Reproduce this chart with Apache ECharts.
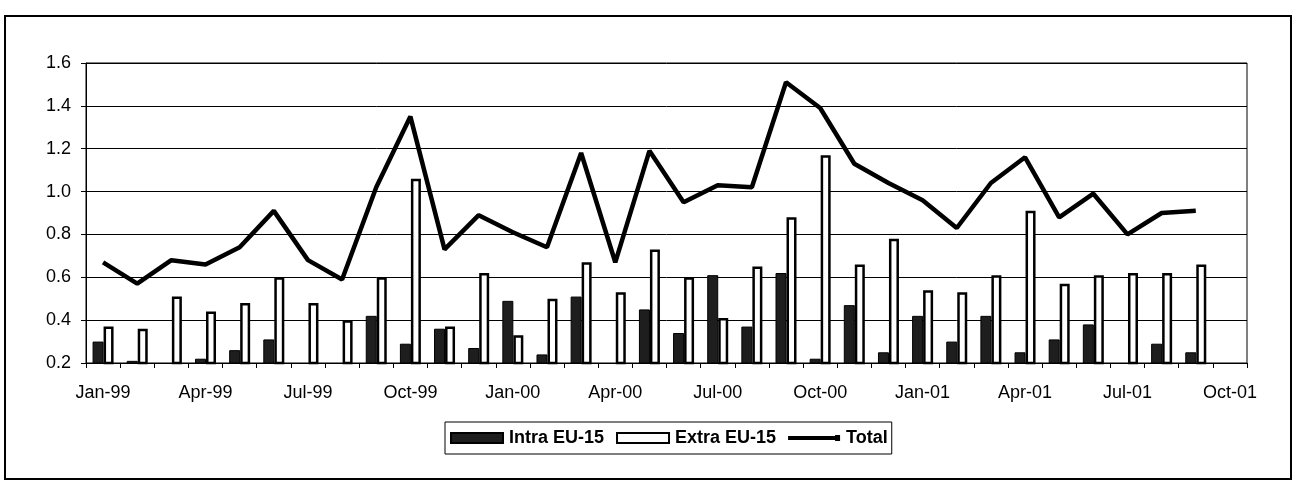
<!DOCTYPE html>
<html>
<head>
<meta charset="utf-8">
<script src="https://cdn.jsdelivr.net/npm/echarts@6/dist/echarts.min.js"></script>
<style>
  html, body { margin: 0; padding: 0; background: #fff; }
  #chart { width: 1295px; height: 485px; }
</style>
</head>
<body>
<div id="chart"></div>
<script>
// Monthly categories, Jan-99 .. Oct-01 (Oct-01 is an empty slot closing the axis)
const months = [
  'Jan-99','Feb-99','Mar-99','Apr-99','May-99','Jun-99','Jul-99','Aug-99','Sep-99','Oct-99','Nov-99','Dec-99',
  'Jan-00','Feb-00','Mar-00','Apr-00','May-00','Jun-00','Jul-00','Aug-00','Sep-00','Oct-00','Nov-00','Dec-00',
  'Jan-01','Feb-01','Mar-01','Apr-01','May-01','Jun-01','Jul-01','Aug-01','Sep-01','Oct-01'
];

const intraEU15 = [
  0.30, 0.21, 0.17, 0.22, 0.26, 0.31, 0.20, 0.19, 0.42, 0.29, 0.36, 0.27,
  0.49, 0.24, 0.51, 0.14, 0.45, 0.34, 0.61, 0.37, 0.62, 0.22, 0.47, 0.25,
  0.42, 0.30, 0.42, 0.25, 0.31, 0.38, 0.18, 0.29, 0.25
];

const extraEU15 = [
  0.37, 0.36, 0.51, 0.44, 0.48, 0.60, 0.48, 0.40, 0.60, 1.06, 0.37, 0.62,
  0.33, 0.50, 0.67, 0.53, 0.73, 0.60, 0.41, 0.65, 0.88, 1.17, 0.66, 0.78,
  0.54, 0.53, 0.61, 0.91, 0.57, 0.61, 0.62, 0.62, 0.66
];

const total = [
  0.67, 0.57, 0.68, 0.66, 0.74, 0.91, 0.68, 0.59, 1.02, 1.35, 0.73, 0.89,
  0.81, 0.74, 1.18, 0.67, 1.19, 0.95, 1.03, 1.02, 1.51, 1.39, 1.13, 1.04,
  0.96, 0.83, 1.04, 1.16, 0.88, 0.99, 0.80, 0.90, 0.91
];

const yTicks = { min: 0.2, max: 1.6, step: 0.2 };

const FONT = '"Liberation Sans", Arial, sans-serif';

// legend glyph for the line series: a thick stroke ending in a small knob
const lineIcon = 'path://M0,3 L47,3 L47,2 L52,2 L52,8 L47,8 L47,7 L0,7 Z';

const chart = echarts.init(document.getElementById('chart'), null, { renderer: 'canvas' });

chart.setOption({
  backgroundColor: '#ffffff',
  animation: false,
  graphic: [{
    type: 'rect',
    shape: { x: 5, y: 16, width: 1286, height: 463 },
    style: { fill: 'none', stroke: '#000', lineWidth: 2 },
    silent: true,
    z: -1
  }],
  grid: {
    left: 86, right: 48, top: 63, bottom: 122,
    show: true, borderColor: '#000', borderWidth: 1, backgroundColor: 'transparent'
  },
  legend: {
    left: 445, top: 422,
    padding: [7, 4, 7, 5],
    borderColor: '#000', borderWidth: 1,
    itemWidth: 52, itemHeight: 10, itemGap: 12,
    textStyle: { fontFamily: FONT, fontSize: 18, fontWeight: 'bold', color: '#000', padding: [0, 0, 0, 1] },
    data: [
      { name: 'Intra EU-15', icon: 'rect' },
      { name: 'Extra EU-15', icon: 'rect' },
      { name: 'Total', icon: lineIcon }
    ]
  },
  xAxis: {
    type: 'category',
    data: months,
    boundaryGap: true,
    axisLine: { show: true, lineStyle: { color: '#000', width: 1 } },
    axisTick: { show: true, interval: 0, length: 5, lineStyle: { color: '#000' } },
    axisLabel: { interval: 2, margin: 21, fontFamily: FONT, fontSize: 18, color: '#000' },
    splitLine: { show: false }
  },
  yAxis: {
    type: 'value',
    min: yTicks.min, max: yTicks.max, interval: yTicks.step,
    axisLine: { show: true, lineStyle: { color: '#000', width: 1 } },
    axisTick: { show: true, length: 5, lineStyle: { color: '#000' } },
    axisLabel: {
      margin: 15, fontFamily: FONT, fontSize: 18, color: '#000',
      formatter: v => v.toFixed(1)
    },
    splitLine: { show: true, lineStyle: { color: '#000', width: 1 } }
  },
  series: [
    {
      name: 'Intra EU-15',
      type: 'bar',
      data: intraEU15,
      barWidth: 11,
      barGap: '0%',
      clip: true,
      itemStyle: { color: '#1e1e1e', borderColor: '#000', borderWidth: 1 }
    },
    {
      name: 'Extra EU-15',
      type: 'bar',
      data: extraEU15,
      barWidth: 10,
      barGap: '0%',
      clip: true,
      itemStyle: { color: '#ffffff', borderColor: '#000', borderWidth: 2.5 }
    },
    {
      name: 'Total',
      type: 'line',
      data: total,
      symbol: 'none',
      lineStyle: { color: '#000', width: 4.5 },
      itemStyle: { color: '#000' },
      z: 5
    }
  ]
});
</script>
</body>
</html>
